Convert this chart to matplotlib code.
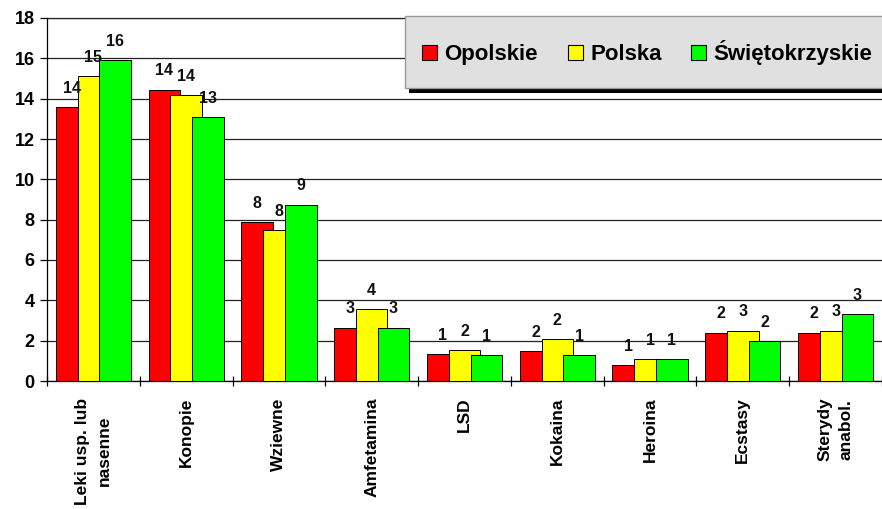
import matplotlib.pyplot as plt
from matplotlib.patches import Rectangle
import numpy as np

# dane z wykresu (odsetek uczniow)
kategorie = ['Leki usp. lub\nnasenne', 'Konopie', 'Wziewne', 'Amfetamina', 'LSD',
             'Kokaina', 'Heroina', 'Ecstasy', 'Sterydy\nanabol.']
serie = ['Opolskie', 'Polska', 'Świętokrzyskie']
opolskie = [13.6, 14.45, 7.9, 2.65, 1.35, 1.5, 0.8, 2.4, 2.4]
polska = [15.1, 14.2, 7.5, 3.55, 1.55, 2.1, 1.1, 2.5, 2.5]
swietokrzyskie = [15.9, 13.1, 8.75, 2.65, 1.3, 1.3, 1.1, 2.0, 3.3]
# etykiety nad slupkami (zaokraglone jak na oryginale)
etyk_opolskie = [14, 14, 8, 3, 1, 2, 1, 2, 2]
etyk_polska = [15, 14, 8, 4, 2, 2, 1, 3, 3]
etyk_swietokrzyskie = [16, 13, 9, 3, 1, 1, 1, 2, 3]
kolory = ['#FF0000', '#FFFF00', '#00FF00']

W, H = 882, 509
plt.rcParams['font.family'] = ['Liberation Sans', 'DejaVu Sans']


def fig_xy(x, y):
    # piksele (od lewego gornego rogu) -> wspolrzedne figury
    return x / W, 1 - y / H


fig = plt.figure(figsize=(W / 100, H / 100), dpi=100)
ax = fig.add_axes([47 / W, 1 - 381 / H, (W - 47) / W, (381 - 18) / H])

x = np.arange(len(kategorie))
szer = 0.34
krok = 0.235
wartosci = [opolskie, polska, swietokrzyskie]
etykiety = [etyk_opolskie, etyk_polska, etyk_swietokrzyskie]

for i, (vals, labs, kol) in enumerate(zip(wartosci, etykiety, kolory)):
    pos = x + (i - 1) * krok
    ax.bar(pos, vals, szer, color=kol, edgecolor='black', linewidth=0.7,
           zorder=2 + i)
    for px_, v, lab in zip(pos, vals, labs):
        ax.annotate(str(lab), (px_, v), xytext=(0, 8), textcoords='offset points',
                    ha='center', va='bottom', fontsize=11.5, fontweight='bold',
                    color='#111111', zorder=10)

ax.set_xlim(-0.5, (W - 47) / 94 - 0.5)
ax.set_ylim(0, 18)
ax.set_yticks(range(0, 19, 2))
ax.yaxis.grid(True, color='#222222', linewidth=0.9, zorder=0)
ax.set_axisbelow(True)

for lab in ax.get_yticklabels():
    lab.set_fontweight('bold')
ax.tick_params(axis='y', direction='out', length=5, width=0.9, labelsize=13, pad=4)

# etykiety kategorii na srodku, kreski na granicach
ax.set_xticks(x)
ax.set_xticklabels(kategorie, rotation=90, ha='center', va='top',
                   multialignment='center', linespacing=1.5,
                   fontsize=12.5, fontweight='bold')
ax.set_xticks(np.arange(len(kategorie) + 1) - 0.5, minor=True)
ax.tick_params(axis='x', which='major', length=0, pad=12)
ax.tick_params(axis='x', which='minor', direction='inout', length=7, width=0.9)

ax.spines['right'].set_visible(False)
ax.spines['top'].set_color('#222222')
ax.spines['top'].set_linewidth(0.9)
ax.spines['left'].set_linewidth(0.9)
ax.spines['bottom'].set_linewidth(0.9)

# legenda rysowana recznie (szare pole z czarnym cieniem)
x0, y0 = fig_xy(408.5, 93)
x1, y1 = fig_xy(905, 21)
fig.patches.append(Rectangle((x0, y0), x1 - x0, y1 - y0, transform=fig.transFigure,
                             facecolor='black', edgecolor='none', zorder=20))
x0, y0 = fig_xy(405, 88)
x1, y1 = fig_xy(905, 16)
fig.patches.append(Rectangle((x0, y0), x1 - x0, y1 - y0, transform=fig.transFigure,
                             facecolor='#E0E0E0', edgecolor='#999999', linewidth=1,
                             zorder=21))
leg_x = [422, 568, 691]
for lx, nazwa, kol in zip(leg_x, serie, kolory):
    sx, sy = fig_xy(lx, 60)
    fig.patches.append(Rectangle((sx, sy), 15 / W, 15 / H, transform=fig.transFigure,
                                 facecolor=kol, edgecolor='black', linewidth=0.8,
                                 zorder=22))
    tx, ty = fig_xy(lx + 22, 60)
    fig.text(tx, ty, nazwa, fontsize=16, fontweight='bold', ha='left',
             va='baseline', zorder=23)

fig.savefig('out.png', dpi=100)
